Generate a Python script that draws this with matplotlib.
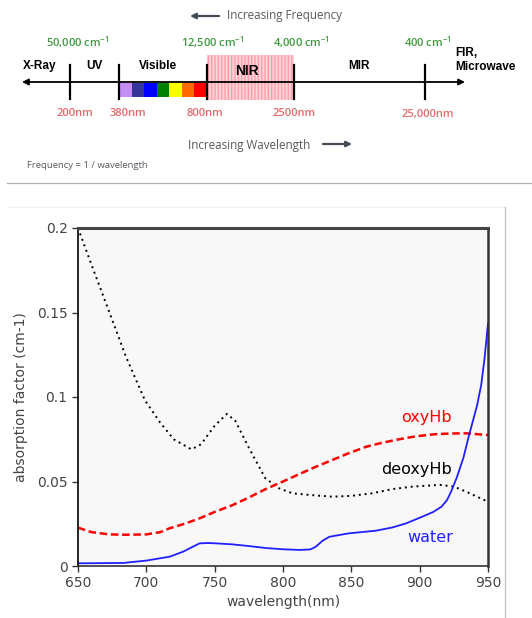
import matplotlib.pyplot as plt
from matplotlib.patches import Rectangle

# spectrum diagram text
bands = ["X-Ray", "UV", "Visible", "NIR", "MIR"]
band_nm = ["200nm", "380nm", "800nm", "2500nm", "25,000nm"]
band_wavenumber = ["50,000", "12,500", "4,000", "400"]
visible_colors = ["#c48cf5", "#35359a", "#0000ff", "#008000", "#ffff00", "#ff6a00", "#ff0000"]

# absorption spectra
deoxy_nm = [650, 660, 673, 685, 699, 710, 720, 733, 740, 750, 759, 765, 775, 787, 797,
            807, 820, 836, 850, 865, 880, 895, 905, 915, 925, 934, 942, 950]
deoxy = [0.200, 0.178, 0.150, 0.124, 0.098, 0.085, 0.075, 0.069, 0.072, 0.083, 0.090, 0.086,
         0.070, 0.052, 0.046, 0.043, 0.042, 0.041, 0.0415, 0.043, 0.0455, 0.047, 0.0475,
         0.048, 0.047, 0.044, 0.041, 0.038]
oxy_nm = [650, 660, 673, 685, 700, 710, 717, 728, 739, 750, 763, 775, 787, 800, 812, 824,
          836, 848, 861, 873, 885, 897, 910, 922, 934, 942, 950]
oxy = [0.0227, 0.020, 0.0187, 0.0185, 0.0187, 0.020, 0.0223, 0.025, 0.0282, 0.032, 0.036,
       0.0405, 0.0454, 0.050, 0.0544, 0.0587, 0.0627, 0.0667, 0.0706, 0.073, 0.075, 0.0767,
       0.0779, 0.0784, 0.0785, 0.078, 0.0775]
water_nm = [650, 683, 700, 717, 727, 733, 739, 745, 751, 763, 775, 788, 800, 812, 820, 824,
            829, 834, 848, 868, 880, 890, 902, 910, 916, 920, 923, 927, 932, 936, 939, 942,
            945, 947.5, 950]
water = [0.0016, 0.0018, 0.0032, 0.0055, 0.0085, 0.011, 0.0134, 0.0136, 0.0134, 0.0128,
         0.0118, 0.0106, 0.0099, 0.0095, 0.0098, 0.0114, 0.0150, 0.0173, 0.0193, 0.0209,
         0.0228, 0.0252, 0.0292, 0.032, 0.0351, 0.039, 0.044, 0.052, 0.064, 0.077, 0.086,
         0.095, 0.107, 0.123, 0.1436]

fig = plt.figure(figsize=(5.32, 6.18), dpi=100)

# ---- top: spectrum diagram, drawn in pixel coordinates ----
d = fig.add_axes([0, 0, 1, 1])
d.set_xlim(0, 532)
d.set_ylim(618, 0)
d.axis("off")

tick_x = [70, 119, 206.7, 293.7, 424.7]
axis_y = 82

d.add_patch(Rectangle((206.7, 55), 87, 45, facecolor="#ffd2d8", edgecolor="#ffa0ac",
                      hatch="|||||", lw=0))
seg = (206.7 - 119) / len(visible_colors)
for i, col in enumerate(visible_colors):
    d.add_patch(Rectangle((119 + i * seg, 83), seg, 14, facecolor=col, lw=0))
d.annotate("", xy=(22, axis_y), xytext=(465, axis_y),
           arrowprops=dict(arrowstyle="<|-|>", color="black", lw=1.3,
                           mutation_scale=9, shrinkA=0, shrinkB=0))
for x in tick_x:
    d.plot([x, x], [65, 99], color="black", lw=1.6)

bold = dict(family="Liberation Sans", weight="bold", fontsize=8.5, ha="center", va="center")
d.text(40, 66, bands[0], **bold)
d.text(94, 66, bands[1], **bold)
d.text(158, 66, bands[2], **bold)
d.text(247, 71, bands[3], family="Liberation Sans", weight="bold", fontsize=10,
       ha="center", va="center")
d.text(359, 66, bands[4], **bold)
d.text(455, 60, "FIR,\nMicrowave", family="Liberation Sans", weight="bold", fontsize=8.5,
       ha="left", va="center", linespacing=1.2)

for x, lab in zip([75, 128, 205, 294, 428], band_nm):
    d.text(x, 114, lab, color="#e06a6a", fontsize=8, family="Open Sans", weight="semibold",
           ha="center", va="center")
for x, lab in zip([78, 213, 301, 428], band_wavenumber):
    d.text(x, 42, lab + r" cm$^{\mathregular{-1}}$", color="#3f9a3f", fontsize=8,
           family="Open Sans", weight="semibold", ha="center", va="center")

gray = "#555a60"
d.text(227, 16, "Increasing Frequency", color=gray, fontsize=8.4, family="Open Sans",
       ha="left", va="center")
d.annotate("", xy=(190, 16), xytext=(219, 16),
           arrowprops=dict(arrowstyle="-|>", color="#444b55", lw=1.6, mutation_scale=8,
                           shrinkA=0, shrinkB=0))
d.text(188, 145, "Increasing Wavelength", color=gray, fontsize=8.4, family="Open Sans",
       ha="left", va="center")
d.annotate("", xy=(352, 144), xytext=(323, 144),
           arrowprops=dict(arrowstyle="-|>", color="#444b55", lw=1.6, mutation_scale=8,
                           shrinkA=0, shrinkB=0))
d.text(27, 166, "Frequency = 1 / wavelength", color=gray, fontsize=6.8, family="Open Sans",
       ha="left", va="center")

d.plot([7, 532], [183, 183], color="#b0b0b0", lw=0.9)
d.plot([7, 505], [207, 207], color="#f0f0f0", lw=0.8)
d.plot([505, 505], [207, 618], color="#c0c0c0", lw=0.9)

# ---- bottom: absorption chart ----
ax = fig.add_axes([78 / 532, (618 - 566) / 618, 410 / 532, 338 / 618])
ax.set_facecolor("#f8f8f8")
ax.plot(deoxy_nm, deoxy, color="black", lw=1.4, ls=(0, (1, 2)))
ax.plot(oxy_nm, oxy, color="#ff0000", lw=1.8, ls=(0, (3, 1.5)))
ax.plot(water_nm, water, color="#2020ff", lw=1.3)

ax.set_xlim(650, 950)
ax.set_ylim(0, 0.2)
ax.set_xticks([650, 700, 750, 800, 850, 900, 950])
ax.set_yticks([0, 0.05, 0.1, 0.15, 0.2])
ax.set_yticklabels(["0", "0.05", "0.1", "0.15", "0.2"])
ax.tick_params(direction="out", length=4, width=1, colors="#333333", labelsize=10,
               labelcolor="#444444")
for side, lw, col in [("left", 1.2, "black"), ("bottom", 1.2, "#333333"),
                      ("top", 2.2, "#444444"), ("right", 1.8, "#333333")]:
    ax.spines[side].set_linewidth(lw)
    ax.spines[side].set_color(col)

ax.set_xlabel("wavelength(nm)", fontsize=10, color="#444444", labelpad=3)
ax.set_ylabel("absorption factor (cm-1)", fontsize=10, color="#444444", labelpad=6)

ax.text(905, 0.088, "oxyHb", color="#ff0000", fontsize=11.5, ha="center", va="center")
ax.text(898, 0.057, "deoxyHb", color="black", fontsize=11.5, ha="center", va="center")
ax.text(908, 0.017, "water", color="#2020ff", fontsize=11.5, ha="center", va="center")

fig.savefig("out.png", dpi=100)
